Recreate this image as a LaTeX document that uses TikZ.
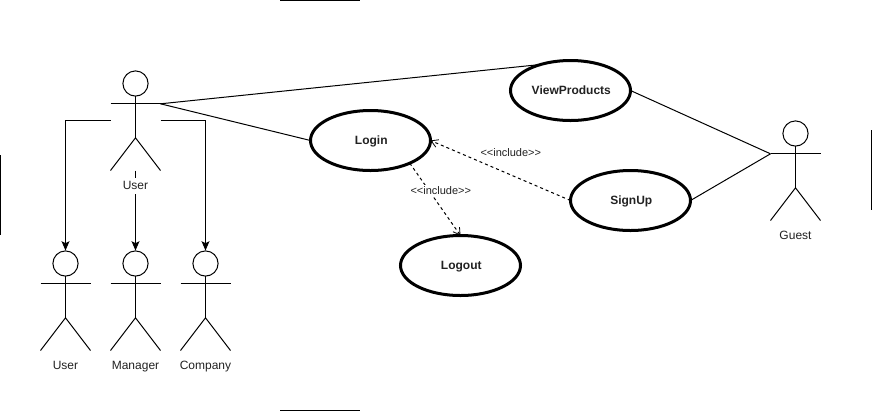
\documentclass[tikz,border=0pt]{standalone}
\usepackage{fontspec}
\setmainfont{Liberation Sans}
\usetikzlibrary{shapes.geometric,arrows.meta,backgrounds}
\definecolor{labelgrey}{HTML}{222222}
\tikzset{
  line/.style={draw=black,line width=0.75pt},
  usecase/.style={ellipse,draw=black,line width=2.25pt,fill=white,minimum width=90pt,minimum height=45pt,inner sep=0pt,outer sep=0pt,font=\bfseries\fontsize{9}{10}\selectfont,text=labelgrey,text height=8pt,text depth=1.9pt},
  actorlabel/.style={fill=white,inner sep=0pt,minimum height=12pt,text=labelgrey,font=\fontsize{9}{10}\selectfont,text height=8.1pt,text depth=1.9pt},
  edgelabel/.style={fill=white,inner sep=0pt,minimum height=9pt,text=labelgrey,font=\fontsize{8.25}{9}\selectfont},
  solidarrow/.style={line,-{Stealth[length=7pt,width=6pt,inset=1.5pt]}},
  includearrow/.style={line,densely dashed,dash pattern=on 2.25pt off 2.25pt,-{Straight Barb[length=5pt,width=6pt,line width=0.6pt]}}
}
\newcommand{\drawactor}[5]{% name, x, y, label, label name
  \coordinate (#1-top) at (#2,#3);
  \coordinate (#1-head) at (#2,#3+13);
  \coordinate (#1-neck) at (#2,#3+25.7);
  \coordinate (#1-hip) at (#2,#3+67.3);
  \coordinate (#1-foot) at (#2,#3+100);
  \coordinate (#1-arml) at (#2-25,#3+33.3);
  \coordinate (#1-armr) at (#2+25,#3+33.3);
  \coordinate (#1-handl) at (#2-25,#3+50);
  \coordinate (#1-handr) at (#2+25,#3+50);
  \coordinate (#1-legl) at (#2-25,#3+100);
  \coordinate (#1-legr) at (#2+25,#3+100);
  \node[circle,line,minimum size=18.9pt,inner sep=0pt,outer sep=0pt] (#1-circle) at (#1-head) {};
  \draw[line] (#1-circle.south) -- (#1-hip);
  \draw[line] (#1-arml) -- (#1-armr);
  \draw[line] (#1-legl) -- (#1-hip) -- (#1-legr);
  \node[actorlabel] (#5) at (#2,#3+115) {#4};
}
\begin{document}
\begin{tikzpicture}[x=0.75pt,y=-0.75pt]
\useasboundingbox (0,0) rectangle (872,412);
% edge marks
\coordinate (ta) at (280,0.5); \coordinate (tb) at (360,0.5);
\coordinate (ba) at (280,410); \coordinate (bb) at (360,410);
\coordinate (la) at (0.5,155); \coordinate (lb) at (0.5,235);
\coordinate (ra) at (871,130); \coordinate (rb) at (871,210);
\draw[line] (ta) -- (tb);
\draw[line] (ba) -- (bb);
\draw[line] (la) -- (lb);
\draw[line] (ra) -- (rb);
% actors
\drawactor{mainuser}{135.5}{70.5}{User}{mainuserlabel}
\drawactor{subuser}{65.5}{250.5}{User}{subuserlabel}
\drawactor{manager}{135.5}{250.5}{Manager}{managerlabel}
\drawactor{company}{205.5}{250.5}{Company}{companylabel}
\drawactor{guest}{795.5}{120.5}{Guest}{guestlabel}
% use cases
\node[usecase] (login) at (370.5,140.5) {\hspace*{1.2pt}Login};
\node[usecase] (view) at (570.5,90.5) {\hspace*{1.2pt}ViewProducts};
\node[usecase] (signup) at (630.5,200.5) {\hspace*{1.2pt}SignUp};
\node[usecase] (logout) at (460.5,265.5) {\hspace*{1.2pt}Logout};
% connectors
\begin{scope}[on background layer]
\draw[solidarrow] (mainuser-handl) -| (subuser-top);
\draw[solidarrow] (mainuser-foot) -- (manager-top);
\draw[solidarrow] (mainuser-handr) -| (company-top);
\draw[line] (mainuser-armr) -- (view.139);
\draw[line] (mainuser-armr) -- (login.west);
\draw[line] (view.east) -- (guest-arml);
\draw[line] (signup.east) -- (guest-arml);
\draw[includearrow] (signup.west) -- (login.east);
\draw[includearrow] (login.-30) -- (logout.north);
\end{scope}
\node[edgelabel] (inc1) at (510.8,153) {<\kern0pt<include>\kern0pt>};
\node[edgelabel] (inc2) at (440.8,191) {<\kern0pt<include>\kern0pt>};
\end{tikzpicture}
\end{document}
